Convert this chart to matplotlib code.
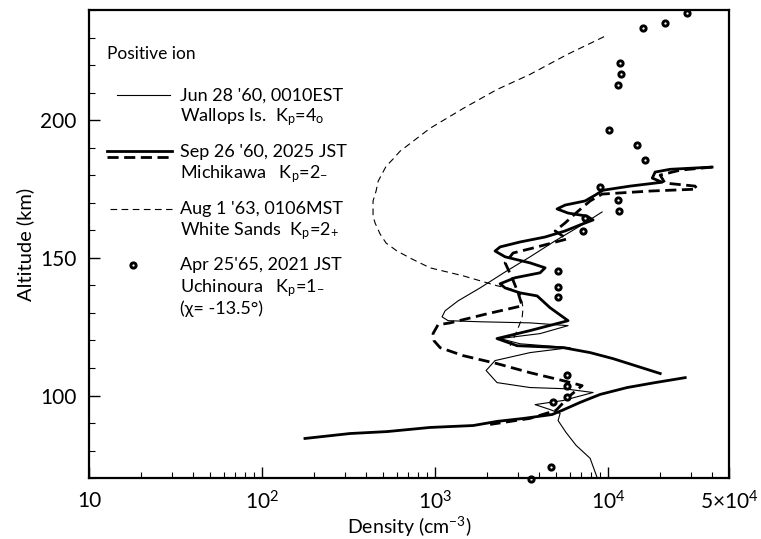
import numpy as np
import matplotlib
matplotlib.use("Agg")
import matplotlib.pyplot as plt
from matplotlib.ticker import FixedLocator, MultipleLocator, NullFormatter

plt.rcParams['font.family'] = ['Lato', 'DejaVu Sans']
plt.rcParams['mathtext.fontset'] = 'custom'
plt.rcParams['mathtext.rm'] = 'Lato'
plt.rcParams['mathtext.it'] = 'Lato:italic'

# ------------------------------------------------------------------
# datos (densidad en cm^-3, altitud en km)
# ------------------------------------------------------------------
# Jun 28 '60, Wallops Is. (linea fina continua)
wallops_n = [9230, 6890, 4940, 3540, 2540, 1820, 1358, 1143, 1097, 1189, 1820, 3540,
             5870, 4045, 2376, 3100, 6030, 3540, 2222, 1972, 2280, 3540, 5500, 8190,
             5500, 3785, 4620, 5280, 5140, 5710, 6530, 7870, 8630]
wallops_h = [166.7, 161.6, 156.2, 150.4, 144.9, 139.1, 134.4, 130.8, 128.6, 127.2, 126.8, 126.4,
             125.4, 122.5, 120.7, 118.8, 117.4, 115.6, 112.7, 109.1, 104.7, 102.9, 102.5, 101.1,
             98.2, 96.7, 94.9, 93.5, 90.9, 86.6, 81.9, 77.2, 70.3]

# Sep 26 '60, Michikawa (linea gruesa continua, dos tramos)
mich_up_n = [3.99e4, 2.28e4, 1.87e4, 1.80e4, 2.05e4, 1.34e4, 9350, 8410, 7360, 5640, 5070,
             5870, 7530, 8190, 6890, 5640, 4325, 3100, 2376, 2222, 2540, 3540, 4325, 4045,
             2900, 2376, 2540, 3100, 3890, 4620, 5870, 3540, 2280, 2980, 5500, 7870, 1.069e4, 2.0e4]
mich_up_h = [183.0, 182.2, 181.2, 179.0, 177.5, 176.1, 174.6, 172.8, 170.7, 169.2, 167.8,
             166.3, 165.2, 163.8, 162.0, 159.8, 157.6, 155.8, 154.0, 152.5, 150.4, 148.2, 146.4, 144.6,
             142.8, 140.6, 139.1, 137.3, 136.2, 131.9, 127.2, 123.6, 120.7, 118.1, 117.4, 115.6, 113.4, 108.0]
mich_low_n = [177, 323, 528, 935, 1660, 2280, 3265, 4745, 5420, 6890, 8990, 1.288e4, 1.87e4, 2.79e4]
mich_low_h = [84.4, 86.2, 86.9, 88.4, 89.1, 90.6, 91.7, 93.1, 94.6, 97.5, 100.4, 102.9, 104.7, 106.5]

# Sep 26 '60, Michikawa (linea gruesa discontinua)
mich_dn_n = [3.99e4, 2.61e4, 2.0e4, 2.13e4, 3.18e4, 3.27e4, 1.75e4, 9230, 7870, 6710, 5640,
             4940, 5800, 3685, 2825, 2540, 2785, 3020, 3185, 2000, 1221, 1040, 973, 986, 1069, 1452,
             2280, 3540, 5500, 7080, 6030, 5000, 3540, 2080]
mich_dn_h = [183.0, 181.9, 180.1, 177.2, 176.1, 175.0, 174.3, 173.2, 170.7, 167.0, 162.7,
             159.8, 156.9, 153.6, 151.8, 148.2, 142.8, 137.3, 132.6, 129.7, 126.4, 125.7, 122.5, 119.9, 117.4, 114.5,
             111.6, 108.3, 105.4, 103.6, 100.0, 94.6, 91.7, 89.5]

# Aug 1 '63, White Sands (linea fina discontinua)
sands_n = [9480, 5790, 3540, 2280, 1452, 935, 628, 571, 521, 469, 456, 438, 438, 450, 481,
           521, 603, 736, 935, 1452, 2280, 2716, 3100, 3225, 3185, 2980, 2716]
sands_h = [230.4, 223.9, 216.7, 211.2, 204.3, 197.1, 188.8, 185.9, 183.3, 177.9, 174.3, 170.7,
           165.2, 162.7, 158.7, 155.4, 152.5, 149.6, 146.4, 143.5, 139.9, 138.8, 137.3, 131.9,
           128.3, 123.6, 118.1]

# Apr 25 '65, Uchinoura (puntos)
uchi_n = [2.87e4, 2.13e4, 1.59e4, 1.17e4, 1.19e4, 1.14e4, 1.01e4, 1.47e4, 1.64e4, 9000,
          1.14e4, 1.16e4, 7360, 7200, 5140, 5140, 5140, 5790, 5790, 5790, 4810, 4690, 3590]
uchi_h = [239.1, 235.5, 233.7, 220.7, 216.7, 213.0, 196.4, 190.9, 185.5, 175.7,
          171.0, 167.0, 164.5, 159.8, 145.3, 139.5, 135.9, 107.6, 103.6, 99.6, 97.5, 73.9, 69.6]

xticks = [10, 1e2, 1e3, 1e4, 5e4]
xtick_labels = ['10', r'10$^{2}$', r'10$^{3}$', r'10$^{4}$', r'5×10$^{4}$']
yticks = [100, 150, 200]

# ------------------------------------------------------------------
fig = plt.figure(figsize=(7.61, 5.39), dpi=100)
ax = fig.add_axes([0.117, 0.113, 0.841, 0.868])

dot = dict(color='black', ms=3.8, mfc='white', mec='black', mew=2.1)

ax.plot(wallops_n, wallops_h, color='black', lw=0.8)
ax.plot(mich_up_n, mich_up_h, color='black', lw=2.0)
ax.plot(mich_low_n, mich_low_h, color='black', lw=2.0)
ax.plot(mich_dn_n, mich_dn_h, color='black', lw=2.0, dashes=(4, 2))
ax.plot(sands_n, sands_h, color='black', lw=0.8, dashes=(6, 4))
ax.plot(uchi_n, uchi_h, 'o', clip_on=False, **dot)

ax.set_xscale('log')
ax.set_xlim(10, 5e4)
ax.set_ylim(70, 240)

ax.xaxis.set_major_locator(FixedLocator(xticks))
ax.set_xticklabels(xtick_labels)
minors = [m * 10 ** e for e in range(1, 5) for m in range(2, 10) if m * 10 ** e < 5e4]
ax.xaxis.set_minor_locator(FixedLocator(minors))
ax.xaxis.set_minor_formatter(NullFormatter())
ax.yaxis.set_major_locator(FixedLocator(yticks))
ax.yaxis.set_minor_locator(MultipleLocator(10))

ax.tick_params(which='major', direction='in', length=8, width=1.0, labelsize=15, pad=9)
ax.tick_params(which='minor', direction='in', length=4, width=0.8)
for s in ax.spines.values():
    s.set_linewidth(1.6)

ax.set_xlabel('Density (cm$^{-3}$)', fontsize=14, labelpad=1)
ax.set_ylabel('Altitude (km)', fontsize=14.5, labelpad=4)

# ------------------------------------------------------------------
# leyenda dibujada a mano
# ------------------------------------------------------------------
tr = ax.transAxes
fs = 13
ax.text(0.028, 0.906, 'Positive ion', transform=tr, fontsize=12.5, va='center')

ax.plot([0.044, 0.127], [0.818, 0.818], transform=tr, color='black', lw=0.8)
ax.text(0.142, 0.818, "Jun 28 '60, 0010EST", transform=tr, fontsize=fs, va='center')
ax.text(0.142, 0.771, r'Wallops Is.  K$_\mathrm{p}$=4$_\mathrm{o}$', transform=tr, fontsize=fs, va='center')

ax.plot([0.028, 0.130], [0.699, 0.699], transform=tr, color='black', lw=2.0)
ax.plot([0.028, 0.130], [0.686, 0.686], transform=tr, color='black', lw=2.0, dashes=(4, 2))
ax.text(0.142, 0.697, "Sep 26 '60, 2025 JST", transform=tr, fontsize=fs, va='center')
ax.text(0.142, 0.650, r'Michikawa   K$_\mathrm{p}$=2$_{-}$', transform=tr, fontsize=fs, va='center')

ax.plot([0.033, 0.130], [0.575, 0.575], transform=tr, color='black', lw=0.8, dashes=(6, 4))
ax.text(0.142, 0.575, "Aug 1 '63, 0106MST", transform=tr, fontsize=fs, va='center')
ax.text(0.142, 0.528, r'White Sands  K$_\mathrm{p}$=2$_{+}$', transform=tr, fontsize=fs, va='center')

ax.plot([0.069], [0.455], 'o', transform=tr, **dot)
ax.text(0.142, 0.455, "Apr 25'65, 2021 JST", transform=tr, fontsize=fs, va='center')
ax.text(0.142, 0.406, r'Uchinoura   K$_\mathrm{p}$=1$_{-}$', transform=tr, fontsize=fs, va='center')
ax.text(0.142, 0.361, '(χ= -13.5°)', transform=tr, fontsize=fs, va='center')

fig.savefig('out.png', dpi=100)
